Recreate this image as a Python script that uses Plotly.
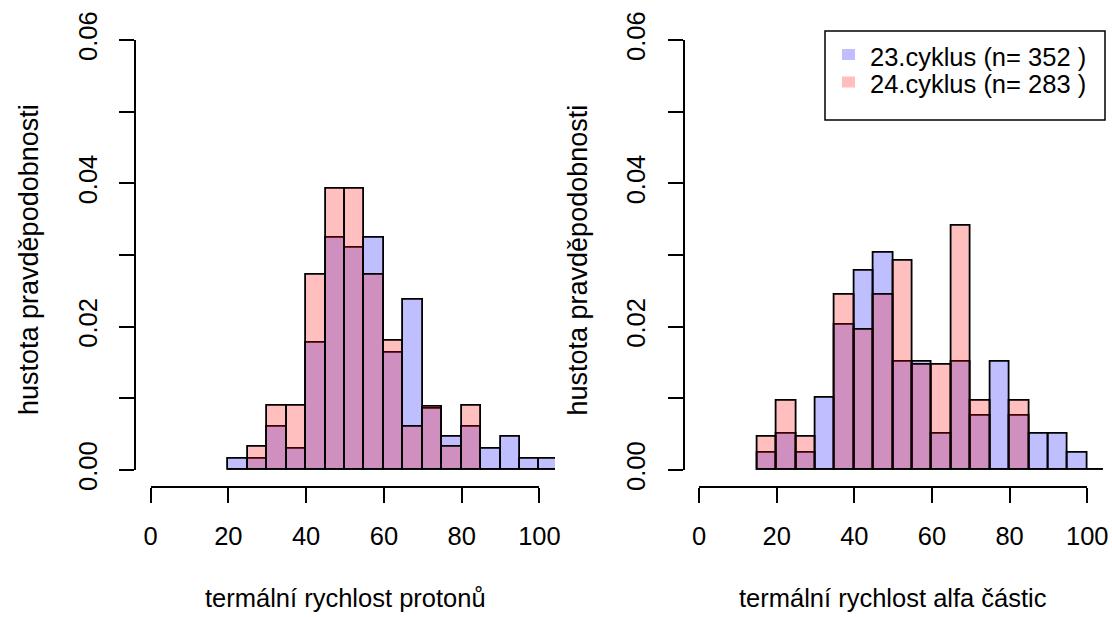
import plotly.graph_objects as go

# ---- data: histogram densities (bin width 5) ----
BIN_W = 5

# thermal speed of protons
proton_edges = [20, 25, 30, 35, 40, 45, 50, 55, 60, 65, 70, 75, 80, 85, 90, 95, 100]
proton_c23 = [0.0015, 0.0015, 0.0060, 0.0029, 0.0177, 0.0324, 0.0310, 0.0324, 0.0163,
              0.0238, 0.0085, 0.0046, 0.0060, 0.0029, 0.0046, 0.0015, 0.0015]
proton_c24 = [0.0, 0.0032, 0.0090, 0.0090, 0.0273, 0.0392, 0.0392, 0.0273, 0.0180,
              0.0060, 0.0088, 0.0032, 0.0090, 0.0, 0.0, 0.0, 0.0]

# thermal speed of alpha particles
alpha_edges = [15, 20, 25, 30, 35, 40, 45, 50, 55, 60, 65, 70, 75, 80, 85, 90, 95, 100]
alpha_c23 = [0.0024, 0.0050, 0.0024, 0.0101, 0.0202, 0.0278, 0.0303, 0.0151, 0.0151,
             0.0050, 0.0151, 0.0076, 0.0151, 0.0076, 0.0050, 0.0050, 0.0024, 0.0]
alpha_c24 = [0.0047, 0.0097, 0.0047, 0.0, 0.0245, 0.0195, 0.0245, 0.0292, 0.0147,
             0.0147, 0.0341, 0.0097, 0.0, 0.0097, 0.0, 0.0, 0.0, 0.0]

series_names = ["23.cyklus (n= 352 )", "24.cyklus (n= 283 )"]
x_ticks = [0, 20, 40, 60, 80, 100]
y_ticks = [0.0, 0.01, 0.02, 0.03, 0.04, 0.05, 0.06]
y_ticktext = ["0.00", "", "0.02", "", "0.04", "", "0.06"]
x_titles = ["termální rychlost protonů", "termální rychlost alfa částic"]
y_title = "hustota pravděpodobnosti"

# ---- styling ----
W, H = 1112, 617
FONT = "Liberation Sans, Arial, sans-serif"
FS = 25.5
BLUE = "rgba(0,0,255,0.25)"
RED = "rgba(255,0,0,0.25)"
X_LIM = [-4, 104]
Y_LIM = [-0.0024, 0.0624]


def px(x):
    return x / W


def py(y):
    return 1 - y / H


# panel plot regions in pixels: (left, right); shared top/bottom
panels = [
    dict(xl=135.0, xr=555.0, edges=proton_edges, s23=proton_c23, s24=proton_c24),
    dict(xl=683.5, xr=1102.8, edges=alpha_edges, s23=alpha_c23, s24=alpha_c24),
]
Y_TOP, Y_BOT = 22.8, 487.2

fig = go.Figure()
layout = dict(
    width=W, height=H,
    margin=dict(l=0, r=0, t=0, b=0, autoexpand=False),
    paper_bgcolor="white", plot_bgcolor="rgba(0,0,0,0)",
    barmode="overlay", bargap=0,
    showlegend=False,
    font=dict(family=FONT, size=FS, color="black"),
)

ann = []
for i, p in enumerate(panels):
    k = 2 * i + 1          # data axes
    d = 2 * i + 2          # decoration axes
    xa, ya = f"x{k}", f"y{k}"
    xd, yd = f"x{d}", f"y{d}"
    for vals, col in ((p["s23"], BLUE), (p["s24"], RED)):
        fig.add_trace(go.Bar(
            x=p["edges"], y=vals, width=BIN_W, offset=0,
            marker=dict(color=col, line=dict(color="black", width=1.8)),
            xaxis=xa, yaxis=ya, hoverinfo="skip", showlegend=False,
        ))
    fig.add_trace(go.Scatter(x=[None], y=[None], xaxis=xd, yaxis=yd,
                             mode="markers", showlegend=False, hoverinfo="skip"))

    xlen = p["xr"] - p["xl"]
    ppu_x = xlen / (X_LIM[1] - X_LIM[0])
    x0px = p["xl"] + (0 - X_LIM[0]) * ppu_x
    x100px = p["xl"] + (100 - X_LIM[0]) * ppu_x
    ppu_y = (Y_BOT - Y_TOP) / (Y_LIM[1] - Y_LIM[0])
    y0px = Y_BOT - (0 - Y_LIM[0]) * ppu_y
    y6px = Y_BOT - (0.06 - Y_LIM[0]) * ppu_y

    sfx = "" if k == 1 else str(k)
    sfd = str(d)
    layout["xaxis" + sfx] = dict(domain=[px(p["xl"]), px(p["xr"])], range=X_LIM,
                                 anchor=ya, visible=False, fixedrange=True,
                                 automargin=False)
    layout["yaxis" + sfx] = dict(domain=[py(Y_BOT), py(Y_TOP)], range=Y_LIM,
                                 anchor=xa, visible=False, fixedrange=True,
                                 automargin=False)
    layout["xaxis" + sfd] = dict(
        domain=[px(x0px), px(x100px)], range=[0, 100], anchor="free",
        position=py(Y_BOT), showline=True, linecolor="black", linewidth=1.8,
        ticks="outside", ticklen=15, tickwidth=1.8, tickcolor="black",
        tickvals=x_ticks, showgrid=False, zeroline=False, automargin=False,
        ticklabelstandoff=11, tickfont=dict(size=FS, family=FONT, color="black"),
    )
    layout["yaxis" + sfd] = dict(
        domain=[py(y0px), py(y6px)], range=[0, 0.06], anchor="free",
        position=px(p["xl"]), showline=True, linecolor="black", linewidth=1.8,
        ticks="outside", ticklen=15, tickwidth=1.8, tickcolor="black",
        tickvals=y_ticks, ticktext=y_ticktext, tickangle=-90,
        showgrid=False, zeroline=False, ticklabelstandoff=12, automargin=False,
        tickfont=dict(size=FS, family=FONT, color="black"),
    )

    ann.append(dict(text=x_titles[i], xref="paper", yref="paper",
                    x=px((p["xl"] + p["xr"]) / 2), y=py(598),
                    xanchor="center", yanchor="middle", showarrow=False,
                    font=dict(size=FS, family=FONT, color="black")))
    ann.append(dict(text=y_title, xref="paper", yref="paper",
                    x=px(p["xl"] - 106), y=py(260), textangle=-90,
                    xanchor="center", yanchor="middle", showarrow=False,
                    font=dict(size=27, family=FONT, color="black")))

# legend box in the right panel
shapes = [dict(type="rect", xref="paper", yref="paper",
               x0=px(825), x1=px(1105), y0=py(120), y1=py(31),
               line=dict(color="black", width=1.5), fillcolor="white", layer="above")]
for j, (col, yc) in enumerate(((BLUE, 54.5), (RED, 82.0))):
    shapes.append(dict(type="rect", xref="paper", yref="paper",
                       x0=px(842), x1=px(855), y0=py(yc + 5.5), y1=py(yc - 5.5),
                       line=dict(width=0), fillcolor=col, layer="above"))
    ann.append(dict(text=series_names[j], xref="paper", yref="paper",
                    x=px(868), y=py(yc + 2), xanchor="left", yanchor="middle",
                    showarrow=False, font=dict(size=FS, family=FONT, color="black")))

layout["shapes"] = shapes
layout["annotations"] = ann
fig.update_layout(**layout)
fig.write_html("out.html")
